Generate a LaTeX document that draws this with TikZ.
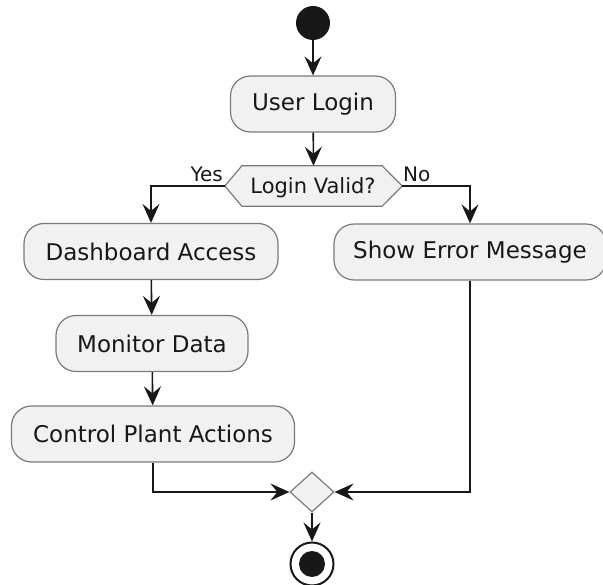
\documentclass[tikz,border=0pt]{standalone}
\usepackage{fontspec}
\setmainfont{DejaVu Sans}
\usetikzlibrary{shapes.geometric,arrows.meta}
\definecolor{boxfill}{HTML}{F1F1F1}
\definecolor{boxline}{HTML}{7A7A7A}
\definecolor{ink}{HTML}{181818}
\tikzset{
  act/.style={draw=boxline, fill=boxfill, line width=1.2pt, rounded corners=20pt,
    minimum height=56pt, inner sep=0pt, font=\fontsize{23}{27}\selectfont, text=ink},
  arr/.style={draw=ink, line width=1.6pt,
    -{Stealth[length=19pt, width=17pt, inset=7pt]}},
  lbl/.style={font=\fontsize{20}{24}\selectfont, text=ink, inner sep=0pt},
}
\begin{document}
\begin{tikzpicture}[x=1pt,y=-1pt]
\useasboundingbox[fill=white] (0,0) rectangle (603,585);
% start
\node[circle, fill=ink, minimum size=34pt, inner sep=0pt] (start) at (313,23) {};
\node[act, minimum width=165pt] (login) at (313,104) {User Login};
% decision hexagon
\node[minimum width=177pt, minimum height=40pt, inner sep=0pt] (valid) at (313.5,186) {};
\draw[draw=boxline, fill=boxfill, line width=1.2pt]
  (valid.west) -- ([xshift=17pt]valid.north west) -- ([xshift=-20pt]valid.north east)
  -- (valid.east) -- ([xshift=-20pt]valid.south east) -- ([xshift=17pt]valid.south west) -- cycle;
\node[font=\fontsize{21}{25}\selectfont, text=ink, anchor=base] (vtext) at (313,194) {Login Valid?};
\node[lbl, anchor=base east] (yes) at (223,182) {Yes};
\node[lbl, anchor=base west] (no) at (403,182) {No};
% left branch
\node[act, minimum width=254pt] (dash) at (151,251.5) {Dashboard Access};
\node[act, minimum width=192pt] (mon) at (152,343.5) {Monitor Data};
\node[act, minimum width=283pt] (ctrl) at (153,434) {Control Plant Actions};
% right branch
\node[act, minimum width=272pt] (err) at (470,252) {Show Error Message};
% merge
\node[diamond, draw=boxline, fill=boxfill, line width=1.2pt, inner sep=0pt,
      minimum width=44pt, minimum height=40pt] (merge) at (312,492) {};
% end
\node[circle, draw=ink, fill=white, line width=2pt, minimum size=43pt, inner sep=0pt] (end) at (312,564) {};
\node[circle, fill=ink, minimum size=26pt, inner sep=0pt] (endin) at (end) {};
% connectors
\draw[arr] (start) -- (login);
\draw[arr] (login) -- (valid.north);
\draw[arr] (valid.west) -| (dash.north);
\draw[arr] (valid.east) -| (err.north);
\draw[arr] (dash) -- (mon);
\draw[arr] (mon) -- (ctrl);
\draw[arr] (ctrl.south) |- (merge.west);
\draw[arr] (err.south) |- (merge.east);
\draw[arr] (merge.south) -- (end.north);
\end{tikzpicture}
\end{document}
